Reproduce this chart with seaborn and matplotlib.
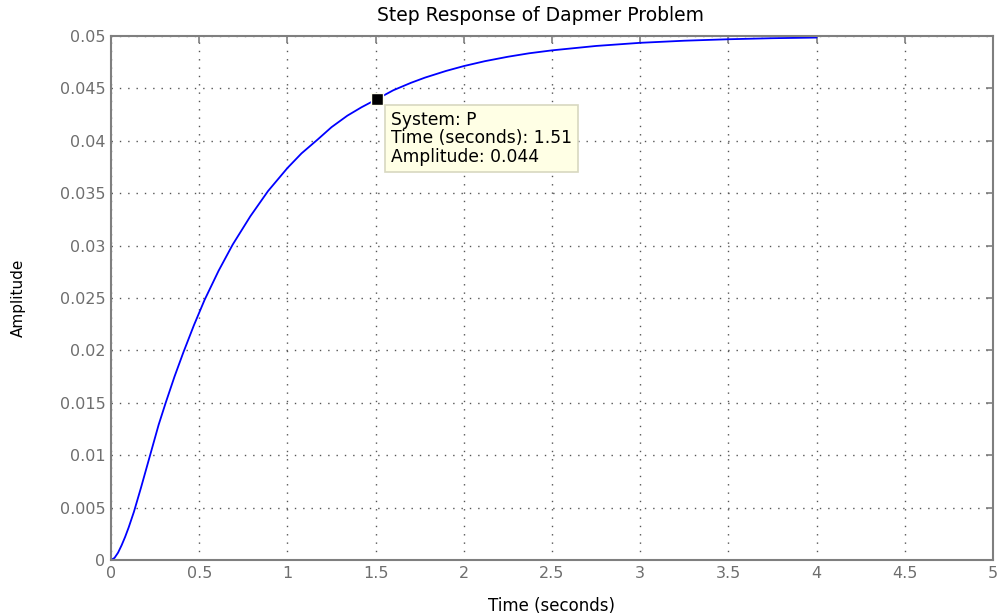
import matplotlib
matplotlib.use("Agg")
import matplotlib.pyplot as plt
import seaborn as sns
import pandas as pd

# Step response samples of system P
time_s = [0.0, 0.02, 0.04, 0.06, 0.08, 0.1, 0.13, 0.17, 0.22, 0.27, 0.31, 0.36,
          0.41, 0.47, 0.53, 0.61, 0.69, 0.79, 0.89, 1.0, 1.08, 1.17, 1.25, 1.34,
          1.42, 1.51, 1.6, 1.7, 1.78, 1.9, 2.0, 2.12, 2.25, 2.37, 2.5, 2.75, 3.0,
          3.25, 3.5, 3.75, 4.0]
amplitude = [0.0, 0.0002, 0.0007, 0.0014, 0.0022, 0.0031, 0.0046, 0.0069, 0.0099,
             0.0129, 0.0150, 0.0175, 0.0198, 0.0224, 0.0248, 0.0276, 0.0301, 0.0328,
             0.0352, 0.0374, 0.0388, 0.0401, 0.0413, 0.0424, 0.0432, 0.0440, 0.04482,
             0.04553, 0.04603, 0.04667, 0.04713, 0.04760, 0.04802, 0.04835, 0.04863,
             0.04905, 0.04935, 0.04955, 0.04969, 0.04979, 0.04985]

# Data tip
tip_time = 1.51
tip_amp = 0.044
tip_system = "P"

x_ticks = [0, 0.5, 1, 1.5, 2, 2.5, 3, 3.5, 4, 4.5, 5]
y_ticks = [0, 0.005, 0.01, 0.015, 0.02, 0.025, 0.03, 0.035, 0.04, 0.045, 0.05]
x_ticklabels = ["0", "0.5", "1", "1.5", "2", "2.5", "3", "3.5", "4", "4.5", "5"]
y_ticklabels = ["0", "0.005", "0.01", "0.015", "0.02", "0.025", "0.03", "0.035",
                "0.04", "0.045", "0.05"]

sns.set_style("white")
plt.rcParams["font.family"] = ["DejaVu Sans"]

df = pd.DataFrame({"t": time_s, "y": amplitude})

fig = plt.figure(figsize=(10.02, 6.16), dpi=100)
ax = fig.add_axes([111 / 1002, 1 - 560 / 616, (993 - 111) / 1002, (560 - 36) / 616])

sns.lineplot(data=df, x="t", y="y", ax=ax, color="#0000ff", linewidth=1.3)

ax.set_xlim(0, 5)
ax.set_ylim(0, 0.05)
ax.set_xticks(x_ticks)
ax.set_yticks(y_ticks)
ax.set_xticklabels(x_ticklabels)
ax.set_yticklabels(y_ticklabels)

frame_grey = "#7f7f7f"
ax.grid(True, linestyle=(0, (1, 5)), color="#555555", linewidth=1.0)
for side in ax.spines.values():
    side.set_color(frame_grey)
    side.set_linewidth(1.5)
ax.tick_params(axis="both", direction="in", length=5, width=1.2, color=frame_grey,
               labelcolor="#6e6e6e", labelsize=11.5, top=True, right=True,
               pad=4)

ax.set_title("Step Response of Dapmer Problem", fontsize=13.5, color="black",
             pad=11, x=0.487)
ax.set_xlabel("Time (seconds)", fontsize=12, color="black", labelpad=12)
ax.set_ylabel("Amplitude", fontsize=11, color="black", labelpad=24)

# Data tip marker and box
ax.plot([tip_time], [tip_amp], marker="s", markersize=9, color="black",
        markeredgecolor="#fffff0", markeredgewidth=1.0, zorder=5)
ax.annotate(
    f"System: {tip_system}\nTime (seconds): {tip_time:.2f}\nAmplitude: {tip_amp:.3f}",
    xy=(tip_time, tip_amp), xytext=(10, -8.5), textcoords="offset points",
    ha="left", va="top", fontsize=12.3, color="black", linespacing=1.03,
    bbox=dict(boxstyle="square,pad=0.35", facecolor="#ffffe5",
              edgecolor="#d8d8c0", linewidth=1.2),
    zorder=6,
)

fig.savefig("out.png", dpi=100)
